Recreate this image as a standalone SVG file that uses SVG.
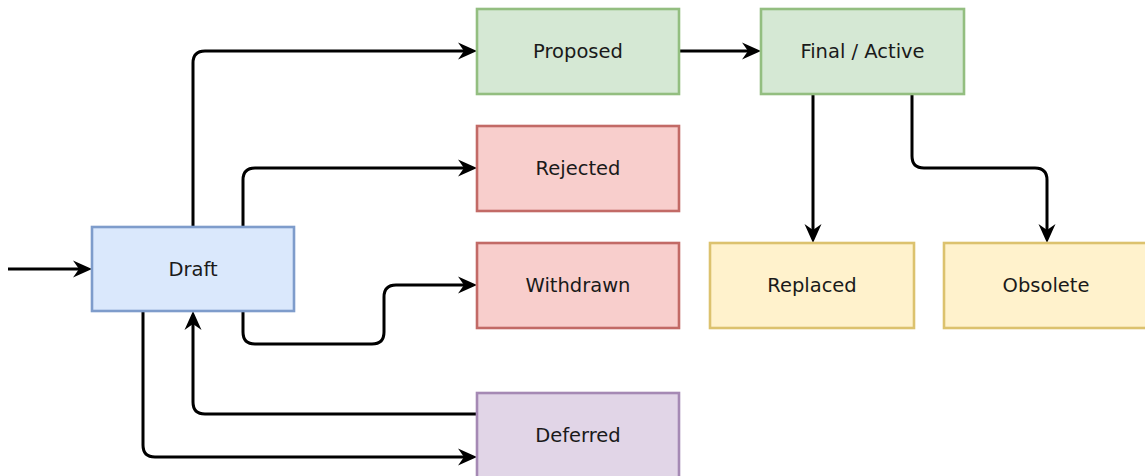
<svg xmlns="http://www.w3.org/2000/svg" width="1145" height="476" viewBox="0 0 1145 476">
<style>
.n rect{stroke-width:2.6}
.n text{font-family:"DejaVu Sans",Verdana,sans-serif;font-size:19.5px;fill:#1a1a1a;text-anchor:middle;dominant-baseline:central}
.blue rect{fill:#dae8fc;stroke:#7e9ccb}
.green rect{fill:#d5e8d4;stroke:#93be80}
.red rect{fill:#f8cecc;stroke:#c26a66}
.yellow rect{fill:#fff2cc;stroke:#dcc26e}
.purple rect{fill:#e1d5e7;stroke:#a589b4}
#edges path{fill:none;stroke:#000;stroke-width:3;marker-end:url(#arr)}
</style>
<defs>
<marker id="arr" markerUnits="userSpaceOnUse" viewBox="-7 -9 21 18" markerWidth="21" markerHeight="18" refX="0" refY="0" orient="auto">
<path d="M13,0 L-6,-8.5 L0,0 L-6,8.5 Z" fill="#000"/>
</marker>
</defs>
<rect width="1145" height="476" fill="#fff"/>
<g id="edges">
<path d="M8,269 H79"/>
<path d="M193,227 V63 Q193,51 205,51 H464"/>
<path d="M243,227 V180 Q243,168 255,168 H464"/>
<path d="M243,311 V332 Q243,344 255,344 H372 Q384,344 384,332 V297 Q384,285 396,285 H464"/>
<path d="M477,414 H205 Q193,414 193,402 V324"/>
<path d="M143,311 V445 Q143,457 155,457 H464"/>
<path d="M679,51 H748"/>
<path d="M813,94 V230"/>
<path d="M912,94 V156 Q912,168 924,168 H1035 Q1047,168 1047,180 V230"/>
</g>
<g id="draft" class="n blue"><rect x="92" y="227" width="202" height="84"/><text x="193" y="269">Draft</text></g>
<g id="proposed" class="n green"><rect x="477" y="9" width="202" height="85"/><text x="578" y="51.5">Proposed</text></g>
<g id="final" class="n green"><rect x="761" y="9" width="203" height="85"/><text x="862.5" y="51.5">Final / Active</text></g>
<g id="rejected" class="n red"><rect x="477" y="126" width="202" height="85"/><text x="578" y="168.5">Rejected</text></g>
<g id="withdrawn" class="n red"><rect x="477" y="243" width="202" height="85"/><text x="578" y="285.5">Withdrawn</text></g>
<g id="deferred" class="n purple"><rect x="477" y="393" width="202" height="85"/><text x="578" y="435.5">Deferred</text></g>
<g id="replaced" class="n yellow"><rect x="710" y="243" width="204" height="85"/><text x="812" y="285.5">Replaced</text></g>
<g id="obsolete" class="n yellow"><rect x="944" y="243" width="204" height="85"/><text x="1046" y="285.5">Obsolete</text></g>
</svg>
